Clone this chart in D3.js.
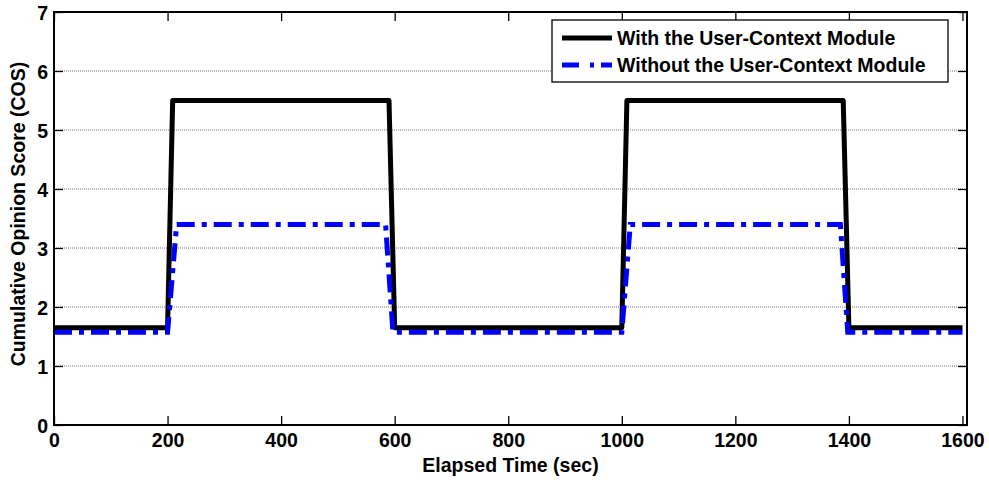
<!DOCTYPE html>
<html><head><meta charset="utf-8">
<script src="https://cdn.jsdelivr.net/npm/d3@7"></script>
<style>body{margin:0;background:#fff}svg{display:block}text{font-family:"Liberation Sans",Arial,sans-serif;font-weight:bold}</style>
</head><body><svg id="c" width="989" height="480"></svg>
<script>
const xTicks = [0,200,400,600,800,1000,1200,1400,1600];
const yTicks = [0,1,2,3,4,5,6,7];
const withTime = [0,200,209,590,600,1000,1009,1390,1400,1600];
const withCOS  = [1.65,1.65,5.5,5.5,1.65,1.65,5.5,5.5,1.65,1.65];
const withoutTime = [0,200,216,584,597,1000,1015,1385,1398,1600];
const withoutCOS  = [1.57,1.57,3.4,3.4,1.57,1.57,3.4,3.4,1.57,1.57];
const seriesNames = ["With the User-Context Module","Without the User-Context Module"];

const svg = d3.select("#c");
const L=54,R=967,T=12,B=425;
const FS=19.5;
const x = d3.scaleLinear().domain([0,1608]).range([L,R]);
const y = d3.scaleLinear().domain([0,7]).range([B,T]);

// grid
svg.append("g").selectAll("line").data(yTicks.filter(d=>d>0&&d<7)).join("line")
 .attr("x1",L).attr("x2",R).attr("y1",d=>y(d)).attr("y2",d=>y(d))
 .attr("stroke","#777").attr("stroke-width",1).attr("stroke-dasharray","1,1");

// axes
const tl=9;
const gx=svg.append("g").attr("transform",`translate(0,${B})`)
 .call(d3.axisBottom(x).tickValues(xTicks).tickSizeInner(-tl).tickSizeOuter(0).tickPadding(8).tickFormat(d3.format("d")));
const gxt=svg.append("g").attr("transform",`translate(0,${T})`)
 .call(d3.axisTop(x).tickValues(xTicks).tickSizeInner(-tl).tickSizeOuter(0).tickFormat(""));
const gy=svg.append("g").attr("transform",`translate(${L},0)`)
 .call(d3.axisLeft(y).tickValues(yTicks).tickSizeInner(-tl).tickSizeOuter(0).tickPadding(6).tickFormat(d3.format("d")));
const gyr=svg.append("g").attr("transform",`translate(${R},0)`)
 .call(d3.axisRight(y).tickValues(yTicks).tickSizeInner(-tl).tickSizeOuter(0).tickFormat(""));
[gx,gxt,gy,gyr].forEach(g=>{g.select(".domain").remove();g.selectAll("line").attr("stroke","#000").attr("stroke-width",1.3);
 g.selectAll("text").attr("font-size",FS).attr("font-weight","bold").attr("fill","#000").style("font-family","Liberation Sans, Arial, sans-serif");});
gx.selectAll("text").attr("y",8).attr("dy","0.72em");
gy.selectAll("text").attr("x",-6).attr("dy","0.36em");

// lines
const line = d3.line().x(d=>x(d[0])).y(d=>y(d[1]));
const dWithout = withoutTime.map((t,i)=>[t,withoutCOS[i]]);
const dWith = withTime.map((t,i)=>[t,withCOS[i]]);
svg.append("path").attr("d",line(dWith)).attr("fill","none").attr("stroke","#000").attr("stroke-width",5).attr("stroke-linejoin","round");
svg.append("path").attr("d",line(dWithout)).attr("fill","none").attr("stroke","#0000ff").attr("stroke-width",5).attr("stroke-dasharray","18,7,5,7");

// frame
svg.append("rect").attr("x",L).attr("y",T).attr("width",R-L).attr("height",B-T).attr("fill","none").attr("stroke","#000").attr("stroke-width",2);

// legend
const lg=svg.append("g");
lg.append("rect").attr("x",552).attr("y",20).attr("width",396).attr("height",62).attr("fill","#fff").attr("stroke","#000").attr("stroke-width",1.3);
const styles=[{c:"#000",da:null},{c:"#0000ff",da:"17,11,4,7"}];
seriesNames.forEach((n,i)=>{
 const yy=38+i*27;
 lg.append("line").attr("x1",562).attr("x2",612).attr("y1",yy).attr("y2",yy).attr("stroke",styles[i].c).attr("stroke-width",5).attr("stroke-dasharray",styles[i].da);
 lg.append("text").attr("x",617).attr("y",yy).attr("dy","0.36em").attr("font-size",FS).text(n);
});

// axis labels
svg.append("text").attr("x",(L+R)/2).attr("y",472).attr("text-anchor","middle").attr("font-size",FS).text("Elapsed Time (sec)");
svg.append("text").attr("transform",`translate(25,214) rotate(-90)`).attr("text-anchor","middle").attr("font-size",FS).text("Cumulative Opinion Score (COS)");
</script></body></html>
